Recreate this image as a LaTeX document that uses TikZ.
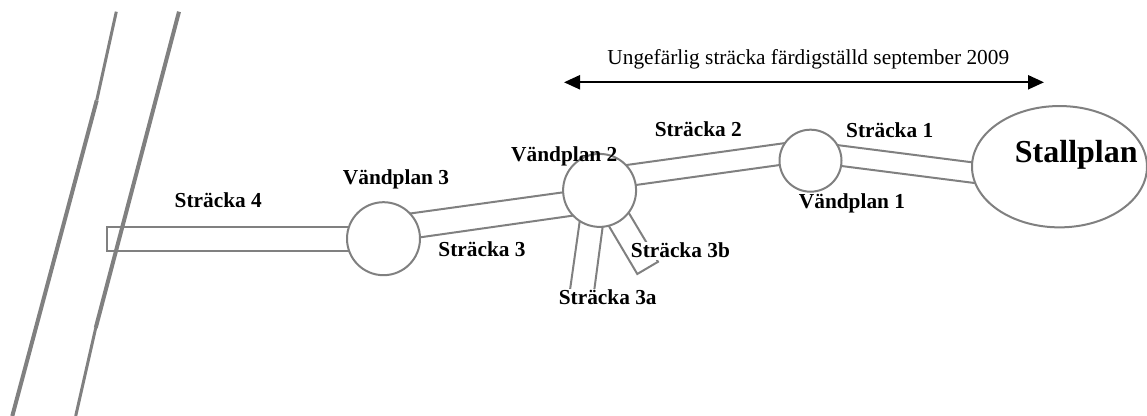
\documentclass[tikz,border=0pt]{standalone}
\usepackage{fontspec}
\setmainfont{Liberation Serif}
\usetikzlibrary{arrows.meta,shapes.geometric}
\definecolor{planline}{RGB}{128,128,128}
\begin{document}
\begin{tikzpicture}[x=0.75pt,y=-0.75pt,
  plan/.style={draw=planline,line width=1.5pt},
  road/.style={draw=planline,line cap=butt},
  turn/.style={circle,plan,fill=white,inner sep=0pt},
  lbl/.style={font=\bfseries\fontsize{16}{19}\selectfont,inner sep=0pt,anchor=base},
  boxlbl/.style={lbl,fill=white,inner sep=1pt},
]
\useasboundingbox (0,0) rectangle (1147,416);

% Sträcka 4 (towards the road)
\draw[plan] (360,227) -- (107,227) -- (107,251) -- (360,251);

% Sträcka 3
\draw[plan] (400,214.9) -- (580,190.0);
\draw[plan] (400,240.2) -- (590,213.2);
% Sträcka 2
\draw[plan] (615,166.6) -- (795,141.7);
\draw[plan] (620,187.2) -- (795,162.9);
% Sträcka 1
\draw[plan] (825,143.5) -- (990,164.6);
\draw[plan] (825,163.9) -- (990,185.0);
% Sträcka 3a
\draw[plan] (581.3,210) -- (569.3,295) -- (593.6,295) -- (604.9,210);
% Sträcka 3b
\draw[plan] (604.2,218.1) -- (637.3,274) -- (658,261.8) -- (623.9,204.7);

% turning places and the stable yard
\node[turn,minimum size=54.75pt] (v3) at (383.5,238.7) {};
\node[turn,minimum size=54.75pt] (v2) at (599.6,190.4) {};
\node[turn,minimum size=46.5pt] (v1) at (810.5,160.7) {};
\node[ellipse,plan,fill=white,inner sep=0pt,minimum width=131.25pt,minimum height=91pt] (stall) at (1059.5,166.7) {};

% the road
\draw[road,line width=2.25pt] (116.3,11.7) -- (96.7,100.5);
\draw[road,line width=3pt] (96.7,100.5) -- (12.3,416);
\draw[road,line width=3pt] (179,11.7) -- (95.7,328);
\draw[road,line width=2.25pt] (95.7,328) -- (75.7,416);

% labels
\node[lbl] (l4) at (218.3,208) {Sträcka 4};
\node[lbl] (lv3) at (396,185) {Vändplan 3};
\node[lbl] (l3) at (482,257) {Sträcka 3};
\node[lbl] (lv2) at (564.3,162) {Vändplan 2};
\node[lbl] (l2) at (698.3,137) {Sträcka 2};
\node[lbl] (l1) at (889.7,138) {Sträcka 1};
\node[lbl] (lv1) at (852,209) {Vändplan 1};
\node[boxlbl] (l3a) at (607.7,305) {Sträcka 3a};
\node[boxlbl] (l3b) at (680.4,258) {Sträcka 3b};
\node[lbl,font=\bfseries\fontsize{24}{28}\selectfont] (ls) at (1076.3,163) {Stallplan};

% finished section
\coordinate (aw) at (564,82.3);
\coordinate (ae) at (1044,82.3);
\draw[line width=1.7pt,{Triangle[length=12pt,width=10.5pt]}-{Triangle[length=12pt,width=10.5pt]}] (aw) -- (ae);
\node[inner sep=0pt,anchor=base,font=\fontsize{16}{19}\selectfont] (done) at (808.3,65) {Ungefärlig sträcka färdigställd september 2009};
\end{tikzpicture}
\end{document}
